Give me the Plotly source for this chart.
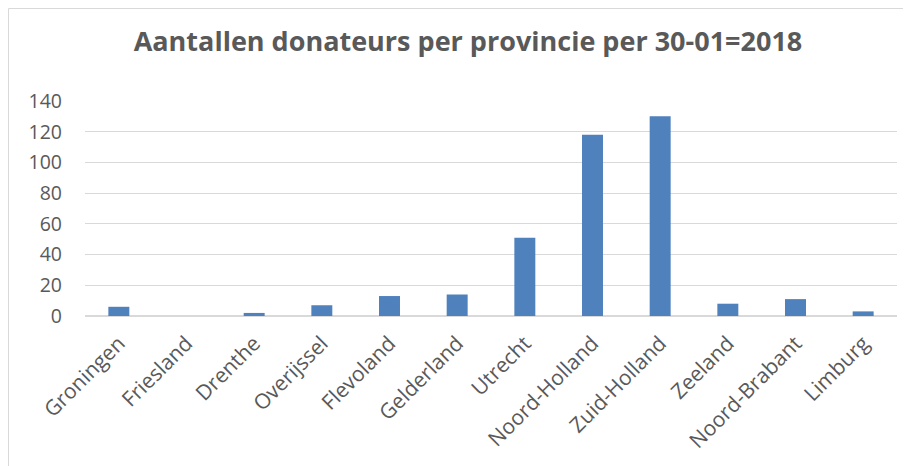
import plotly.graph_objects as go

provinces = ["Groningen", "Friesland", "Drenthe", "Overijssel", "Flevoland", "Gelderland",
             "Utrecht", "Noord-Holland", "Zuid-Holland", "Zeeland", "Noord-Brabant", "Limburg"]
donors = [6, 0, 2, 7, 13, 14, 51, 118, 130, 8, 11, 3]
y_ticks = [0, 20, 40, 60, 80, 100, 120, 140]

# page body has an 8px margin, so the figure is sized to fit the window
W, H = 903, 458
ML, MR, MT, MB = 77, 14, 93, 150
PW, PH = W - ML - MR, H - MT - MB

fig = go.Figure(go.Bar(x=provinces, y=donors, marker_color="#4f81bd",
                       marker_line_width=0, hoverinfo="x+y"))

def px_x(p):
    return (p - ML) / PW

def px_y(p):
    return (H - MB - p) / PH

fig.update_layout(
    width=W, height=H,
    margin=dict(l=ML, r=MR, t=MT, b=MB, autoexpand=False),
    paper_bgcolor="white", plot_bgcolor="white",
    bargap=0.69,
    showlegend=False,
    font=dict(family="Open Sans", color="#595959"),
    title=dict(text="<b>Aantallen donateurs per provincie per 30-01=2018</b>",
               x=460 / W, xanchor="center", y=1 - 34 / H, yanchor="middle",
               font=dict(size=27, color="#595959", family="Open Sans")),
    xaxis=dict(tickangle=-45, tickfont=dict(size=21, color="#595959"),
               showgrid=False, showline=False, ticks="", ticklabelstandoff=10,
               automargin=False),
    yaxis=dict(range=[0, 140], tickvals=y_ticks, tickfont=dict(size=19.5, color="#595959"),
               showgrid=True, gridcolor="#d9d9d9", gridwidth=1,
               zeroline=True, zerolinecolor="#d9d9d9", zerolinewidth=1.5,
               showline=False, ticks="", ticklabelstandoff=22, automargin=False),
    shapes=[dict(type="rect", xref="paper", yref="paper",
                 x0=px_x(0.5), x1=px_x(W + 5), y0=px_y(H + 5), y1=px_y(0.5),
                 line=dict(color="#d9d9d9", width=1), fillcolor="rgba(0,0,0,0)",
                 layer="below")],
)

fig.write_html("out.html")
